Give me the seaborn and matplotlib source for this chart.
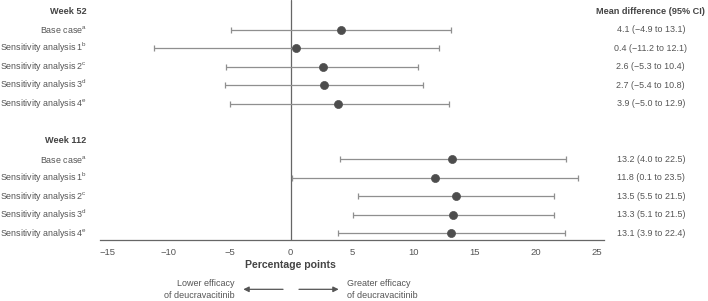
import matplotlib
matplotlib.use("Agg")
import matplotlib.pyplot as plt
import seaborn as sns
import pandas as pd

# rows: 0 header, 1-5 week 52, 6 blank, 7 header, 8-12 week 112
headers = ["Week 52", "Week 112"]
analyses = ["Base case$^{\\mathrm{a}}$", "Sensitivity analysis 1$^{\\mathrm{b}}$",
            "Sensitivity analysis 2$^{\\mathrm{c}}$", "Sensitivity analysis 3$^{\\mathrm{d}}$",
            "Sensitivity analysis 4$^{\\mathrm{e}}$"]
mean_52 = [4.1, 0.4, 2.6, 2.7, 3.9]
low_52 = [-4.9, -11.2, -5.3, -5.4, -5.0]
high_52 = [13.1, 12.1, 10.4, 10.8, 12.9]
mean_112 = [13.2, 11.8, 13.5, 13.3, 13.1]
low_112 = [4.0, 0.1, 5.5, 5.1, 3.9]
high_112 = [22.5, 23.5, 21.5, 21.5, 22.4]
xticks = [-15, -10, -5, 0, 5, 10, 15, 20, 25]

rows = []
for i in range(5):
    rows.append(dict(row=1 + i, label=analyses[i], mean=mean_52[i], lo=low_52[i], hi=high_52[i]))
for i in range(5):
    rows.append(dict(row=8 + i, label=analyses[i], mean=mean_112[i], lo=low_112[i], hi=high_112[i]))
df = pd.DataFrame(rows)

sns.set_style("white")
plt.rcParams['font.family'] = ['Liberation Sans', 'DejaVu Sans']
plt.rcParams['mathtext.fontset'] = 'custom'
plt.rcParams['mathtext.rm'] = 'Liberation Sans'

txt = "#555555"
line = "#8f8f8f"
fs = 6.4

fig = plt.figure(figsize=(7.08, 3.01), dpi=100)
ax = fig.add_axes([0.141, 0.203, 0.712, 0.797])

ax.axvline(0, color="#666666", lw=0.9, zorder=1)
ax.errorbar(df["mean"], df["row"], xerr=[df["mean"] - df["lo"], df["hi"] - df["mean"]],
            fmt="none", ecolor=line, elinewidth=0.9, capsize=2, capthick=0.9, zorder=2)
sns.scatterplot(data=df, x="mean", y="row", ax=ax, s=34, color="#4d4d4d",
                edgecolor="#4d4d4d", zorder=3, legend=False)

ax.set_xlim(-15.6, 25.6)
ax.set_ylim(12.35, -0.6)
ax.set_xticks(xticks)
ax.set_xticklabels([str(t).replace("-", "\u2212") for t in xticks], fontsize=6.8, color=txt)
ax.set_yticks([])
ax.set_xlabel("")
ax.set_ylabel("")
for s in ["top", "left", "right"]:
    ax.spines[s].set_visible(False)
ax.spines["bottom"].set_color("#666666")
ax.spines["bottom"].set_linewidth(0.9)
ax.tick_params(axis="x", length=4, width=0.8, color="#666666", pad=2)

ty = ax.get_yaxis_transform()
for r, h in zip([0, 7], headers):
    ax.text(-0.026, r, h, transform=ty, ha="right", va="center", fontsize=6.6,
            fontweight="bold", color="#444444")
for _, d in df.iterrows():
    ax.text(-0.026, d["row"], d["label"], transform=ty, ha="right", va="center",
            fontsize=fs, color=txt)
    s = f"{d['mean']:.1f} ({d['lo']:.1f} to {d['hi']:.1f})".replace("-", "\u2212")
    ax.text(1.093, d["row"], s, transform=ty, ha="center", va="center", fontsize=fs, color=txt)
ax.text(1.093, 0, "Mean difference (95% CI)", transform=ty, ha="center", va="center",
        fontsize=6.6, fontweight="bold", color="#444444")

tx = ax.get_xaxis_transform()
ax.text(0, -0.106, "Percentage points", transform=tx, ha="center", va="center",
        fontsize=7.6, fontweight="bold", color="#444444")
ax.annotate("", xy=(-4.1, -0.206), xytext=(-0.4, -0.206), xycoords=tx, textcoords=tx,
            arrowprops=dict(arrowstyle="-|>", color="#555555", lw=0.9, mutation_scale=8),
            annotation_clip=False)
ax.annotate("", xy=(4.15, -0.206), xytext=(0.45, -0.206), xycoords=tx, textcoords=tx,
            arrowprops=dict(arrowstyle="-|>", color="#555555", lw=0.9, mutation_scale=8),
            annotation_clip=False)
ax.text(-4.6, -0.206, "Lower efficacy\nof deucravacitinib", transform=tx, ha="right",
        va="center", fontsize=6.5, color=txt, linespacing=1.35)
ax.text(4.6, -0.206, "Greater efficacy\nof deucravacitinib", transform=tx, ha="left",
        va="center", fontsize=6.5, color=txt, linespacing=1.35)

fig.savefig("out.png", dpi=100)
